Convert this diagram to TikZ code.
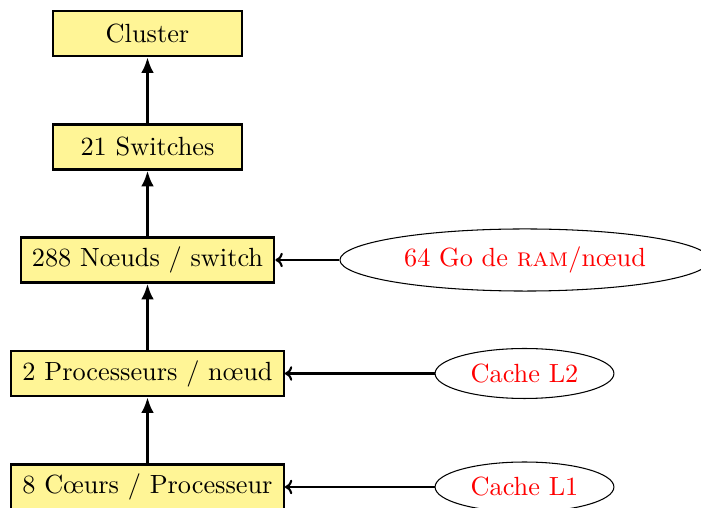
\documentclass[tikz,border=0pt]{standalone}
\usepackage{fontspec}
\usetikzlibrary{shapes.geometric,arrows.meta}
\definecolor{boxyellow}{RGB}{255,245,150}
\begin{document}
\begin{tikzpicture}[x=0.3802pt,y=-0.3802pt,
  box/.style={draw,line width=0.8pt,fill=boxyellow,minimum height=17.1pt,inner xsep=4.3pt,inner ysep=3.33pt},
  wide/.style={minimum width=71.9pt},
  cloud/.style={ellipse,draw,line width=0.4pt,text=red,inner sep=0pt},
  up/.style={line width=1.2pt,-{Latex[length=6pt,width=4.8pt]}},
  side/.style={line width=0.8pt,-{Computer Modern Rightarrow[length=2.8pt,width=5.5pt]}}]
\useasboundingbox (0,0) rectangle (701,508);
\node[box,wide] (cl) at (147.5,33.5) {Cluster};
\node[box,wide] (sw) at (147.5,147) {21 Switches};
\node[box] (nd) at (147.5,260) {288 Nœuds / switch};
\node[box] (pr) at (147.5,373.5) {2 Processeurs / nœud};
\node[box] (co) at (147.5,487) {8 Cœurs / Processeur};
\node[cloud,minimum width=140.7pt,minimum height=23.6pt] (ram) at (525,260) {64 Go de \textsc{ram}/nœud};
\node[cloud,minimum width=68pt,minimum height=19pt] (l2) at (524.5,373.5) {Cache L2};
\node[cloud,minimum width=68pt,minimum height=19pt] (l1) at (524.5,487) {Cache L1};
\draw[up] (sw) -- (cl);
\draw[up] (nd) -- (sw);
\draw[up] (pr) -- (nd);
\draw[up] (co) -- (pr);
\draw[side] (ram) -- (nd);
\draw[side] (l2) -- (pr);
\draw[side] (l1) -- (co);
\end{tikzpicture}
\end{document}
